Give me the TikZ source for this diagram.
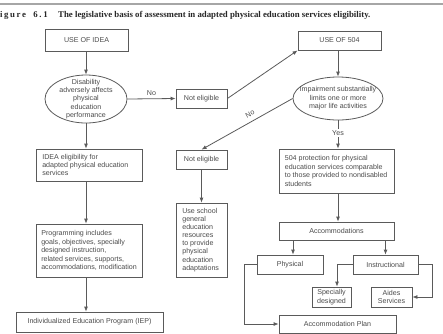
\documentclass[tikz,border=0pt]{standalone}
\usepackage{fontspec}
\setmainfont{Liberation Sans}
\newfontfamily\titlefont{Liberation Serif}
\usetikzlibrary{arrows.meta,shapes.geometric,calc}
\definecolor{ln}{HTML}{5A5A5A}
\definecolor{txt}{HTML}{4A4A4A}
\definecolor{ttl}{HTML}{262626}
\begin{document}
\begin{tikzpicture}[x=1pt,y=-1pt,
  every node/.style={font=\fontsize{7.1}{8.4}\selectfont, text=txt, inner sep=0pt},
  sz/.style 2 args={minimum width=#1, minimum height=#2},
  box/.style={draw=ln, line width=0.8pt, align=center},
  ltxt/.style={anchor=west, align=left},
  oval/.style={draw=ln, line width=0.8pt, ellipse},
  arr/.style={draw=ln, line width=0.8pt, -{Latex[length=5pt,width=4pt]}},
  lab/.style={font=\fontsize{7.1}{8.4}\selectfont},
]
\useasboundingbox (0,0) rectangle (443,333);
% header
\draw[gray!70, line width=1.8pt] (0,3.6) -- (443,3.6);
\node[anchor=base west, text=ttl, font=\titlefont\bfseries\fontsize{8.8}{10}\selectfont\addfontfeature{LetterSpace=18}] (fig) at (0,17) {igure\ \ 6.1};
\node[anchor=base west, text=ttl, font=\titlefont\bfseries\fontsize{8.8}{10}\selectfont] (title) at (58,17) {The legislative basis of assessment in adapted physical education services eligibility.};

% left column
\node[box, sz={83}{22}] (idea) at (86.5,40) {USE OF IDEA};
\node[oval, sz={82}{48}] (ell1) at (86,99) {};
\node[align=center, font=\fontsize{7.1}{8.3}\selectfont] (ell1t) at (ell1) {Disability\\adversely affects\\physical\\education\\performance};
\node[box, sz={106}{32}] (ideael) at (89,165) {};
\node[ltxt] (ideaelt) at ([xshift=6.5pt]ideael.west) {IDEA eligibility for\\adapted physical education\\services};
\node[box, sz={106}{53}] (prog) at (89,250.5) {};
\node[ltxt] (progt) at ([xshift=5.5pt]prog.west) {Programming includes\\goals, objectives, specially\\designed instruction,\\related services, supports,\\accommodations, modification};
\node[box, sz={147}{20}] (iep) at (89.5,322) {Individualized Education Program (IEP)};

% middle column
\node[box, sz={51}{19}] (ne1) at (201.5,98.5) {Not eligible};
\node[box, sz={51}{19}] (ne2) at (201.5,159.5) {Not eligible};
\node[box, sz={51}{74}] (school) at (201.5,240) {};
\node[ltxt, font=\fontsize{7.1}{8.1}\selectfont] (schoolt) at ([xshift=6.5pt]school.west) {Use school\\general\\education\\resources\\to provide\\physical\\education\\adaptations};

% right column
\node[box, sz={83}{19}] (u504) at (339.5,40.5) {USE OF 504};
\node[oval, sz={90}{43}] (ell2) at (338,98.5) {};
\node[align=center] (ell2t) at (ell2) {Impairment substantially\\limits one or more\\major life activities};
\node[box, sz={115}{44}] (prot) at (336.5,171) {};
\node[ltxt] (prott) at ([xshift=6pt]prot.west) {504 protection for physical\\education services comparable\\to those provided to nondisabled\\students};
\node[box, sz={115}{18}] (acc) at (336.5,231) {Accommodations};
\node[box, sz={66}{19}] (phys) at (290,264.5) {Physical};
\node[box, sz={65}{19}] (instr) at (385.5,264.5) {Instructional};
\node[box, sz={39}{20}] (spec) at (331.5,297) {Specially\\designed};
\node[box, sz={41}{20}] (aides) at (391.5,297) {Aides\\Services};
\node[box, sz={117}{18}] (plan) at (337.5,324) {Accommodation Plan};

% connectors
\draw[arr] (idea.south -| ell1) -- (ell1.north);
\draw[arr] (ell1.east) -- node[lab, above=3pt] (no1) {No} (ne1.west);
\draw[arr] (ell1.south) -- (ell1.south |- ideael.north);
\draw[arr] (ideael.south -| ell1) -- (prog.north -| ell1);
\draw[arr] (prog.south -| ell1) -- (iep.north -| ell1);
\draw[arr] (ne1.east) -- (u504.south west);
\draw[arr] (u504.south -| ell2) -- (ell2.north);
\draw[arr] (ell2.west) -- (ne2.north);
\node[lab, rotate=28] (no2) at (250,114) {No};
\draw[arr] (ne2.south) -- (school.north);
\node[lab, fill=white, inner ysep=1.5pt] (yes) at (338,133) {Yes};
\draw[ln, line width=0.8pt] (ell2.south) -- (yes.north);
\draw[arr] (yes.south) -- (yes.south |- prot.north);
\draw[arr] (prot.south -| ell2) -- (acc.north -| ell2);
\draw[arr] ($(acc.south -| phys)+(3,0)$) -- ($(phys.north)+(3,0)$);
\draw[arr] (acc.south -| instr) -- (instr.north);
\draw[arr] (instr.west) -| ($(spec.north)+(5.5,0)$);
\draw[arr] (instr.east) -- ++(14,0) |- (aides.east);
\draw[arr] (phys.west) -- ++(-12,0) |- (plan.west);
\end{tikzpicture}
\end{document}
